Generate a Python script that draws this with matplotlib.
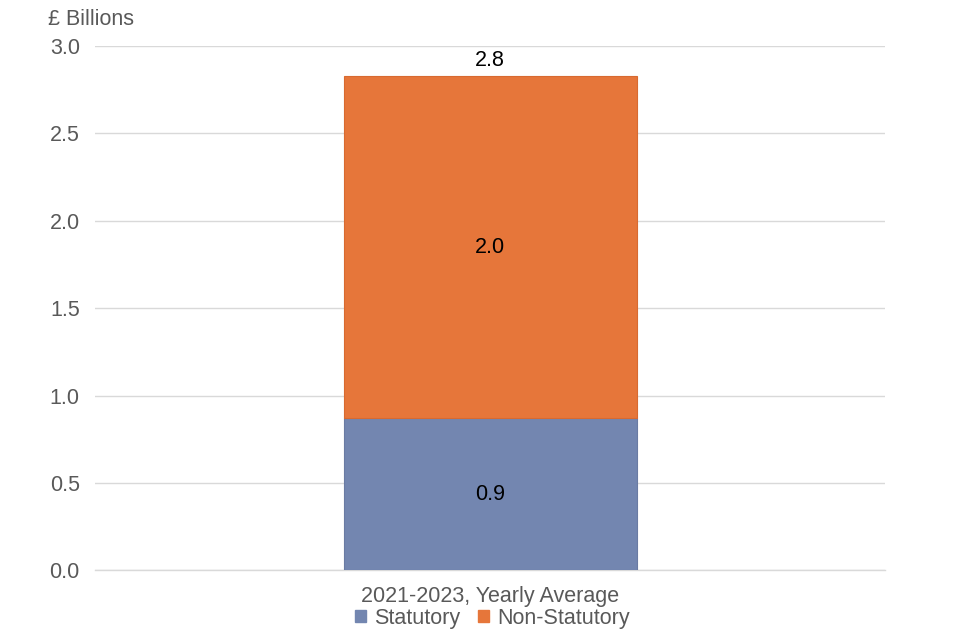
import matplotlib
matplotlib.use("Agg")
import matplotlib.pyplot as plt
from matplotlib.patches import Patch

# Data (GBP billions, yearly average 2021-2023)
category = ["2021-2023, Yearly Average"]
series_names = ["Statutory", "Non-Statutory"]
statutory = [0.87]
non_statutory = [1.96]
seg_labels = [["0.9"], ["2.0"]]
total_labels = ["2.8"]
yticks = [0.0, 0.5, 1.0, 1.5, 2.0, 2.5, 3.0]

BLUE = "#7386B0"
ORANGE = "#E6763A"
GREY = "#595959"
FS = 15.5

plt.rcParams["font.family"] = ["Liberation Sans", "DejaVu Sans"]

fig = plt.figure(figsize=(9.6, 6.4), dpi=100)
ax = fig.add_axes([0.099, 0.109, 0.823, 0.819])

x = list(range(len(category)))
width = 0.371
ax.bar(x, statutory, width, color=BLUE, edgecolor="#6A7BA3", linewidth=0.8, zorder=3)
ax.bar(x, non_statutory, width, bottom=statutory, color=ORANGE,
       edgecolor="#D86A30", linewidth=0.8, zorder=3)

for i in x:
    ax.text(i, statutory[i] / 2, seg_labels[0][i], ha="center", va="center",
            fontsize=FS, color="black", zorder=4)
    ax.text(i, statutory[i] + non_statutory[i] / 2, seg_labels[1][i], ha="center",
            va="center", fontsize=FS, color="black", zorder=4)
    ax.text(i, statutory[i] + non_statutory[i] + 0.03, total_labels[i], ha="center",
            va="bottom", fontsize=FS, color="black", zorder=4)

ax.set_xlim(-0.5, 0.5)
ax.set_ylim(0, 3.0)
ax.set_yticks(yticks)
ax.set_yticklabels([f"{v:.1f}" for v in yticks])
ax.set_xticks(x)
ax.set_xticklabels(category)
ax.tick_params(axis="both", length=0, labelsize=FS, labelcolor=GREY)
ax.tick_params(axis="y", pad=11)
ax.tick_params(axis="x", pad=11)
ax.yaxis.grid(True, color="#D9D9D9", linewidth=1.0, zorder=0)
ax.axhline(0, color="#D9D9D9", linewidth=1.0, zorder=1, clip_on=False)
for s in ax.spines.values():
    s.set_visible(False)

fig.text(0.05, 0.969, "£ Billions", fontsize=FS, color=GREY, ha="left", va="center")

handles = [Patch(color=BLUE), Patch(color=ORANGE)]
fig.legend(handles, series_names, loc="center", bbox_to_anchor=(0.513, 0.034),
           ncol=2, frameon=False, fontsize=FS, labelcolor=GREY,
           handlelength=0.5, handleheight=0.5, handletextpad=0.4, columnspacing=0.8)

fig.savefig("out.png", dpi=100)
